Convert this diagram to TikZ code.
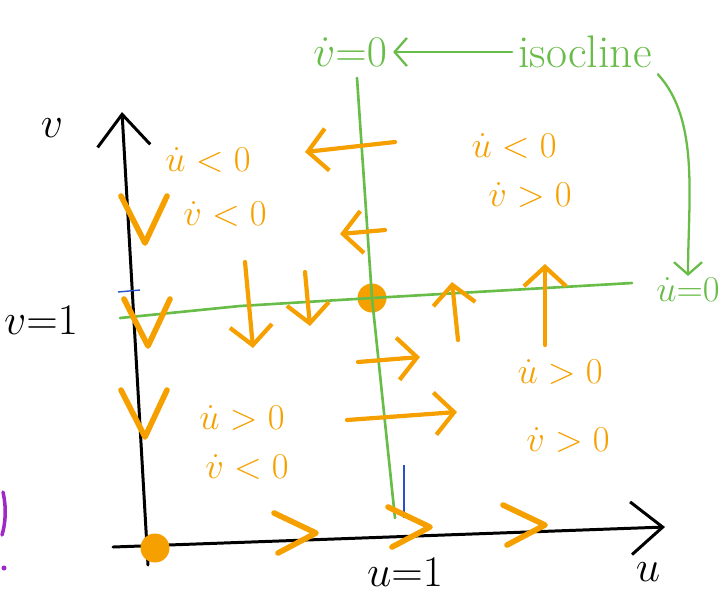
\documentclass[tikz,border=0pt]{standalone}
\usetikzlibrary{arrows.meta}
\definecolor{penorange}{RGB}{246,160,0}
\definecolor{pengreen}{RGB}{104,188,72}
\definecolor{penblue}{RGB}{40,80,200}
\definecolor{penpurple}{RGB}{160,40,200}
\begin{document}
\begin{tikzpicture}[
    x=0.02cm,y=-0.02cm,
    every node/.style={font=\fontsize{20}{22}\selectfont},
    axis/.style={draw=black, line width=1.7pt, line cap=round, -{Straight Barb[length=18pt,width=30pt]}},
    nullcline/.style={draw=pengreen, line width=1.5pt, line cap=round},
    note/.style={draw=pengreen, line width=1.3pt, line cap=round, -{Straight Barb[length=7pt,width=16pt]}},
    flow/.style={draw=penorange, line width=2.4pt, line cap=round, -{Straight Barb[length=11pt,width=24pt]}},
    chevron/.style={draw=penorange, line width=3.2pt, line cap=round, line join=round},
    sign/.style={text=penorange},
    fixed/.style={circle, fill=penorange, inner sep=0pt, minimum size=0.58cm}
]
    \useasboundingbox (0,0) rectangle (726,603);

    % axes
    \coordinate (vbot) at (148,565);
    \coordinate (vtop) at (122,112);
    \coordinate (ubeg) at (113,547);
    \coordinate (uend) at (665,527);
    \draw[axis] (vbot) -- (vtop);
    \draw[axis] (ubeg) -- (uend);
    \node[font=\fontsize{46}{50}\selectfont] (vlab) at (52,128) {$v$};
    \node[font=\fontsize{46}{50}\selectfont] (ulab) at (648,572) {$u$};
    \node[font=\fontsize{38}{42}\selectfont] (uone) at (405,572) {$u{=}1$};
    \node[font=\fontsize{28}{32}\selectfont, anchor=west, inner sep=1pt] (vone) at (2,320) {$v{=}1$};

    % nullclines
    \node[fixed] (fp) at (372,298) {};
    \node[fixed] (orig) at (155,548) {};
    \coordinate (ntop) at (357,78);
    \coordinate (nbot) at (395,518);
    \coordinate (hl) at (120,318);
    \coordinate (hm) at (240,306);
    \coordinate (hr) at (632,283);
    \draw[nullcline] (ntop) -- (fp.center) -- (nbot);
    \draw[nullcline] (hl) -- (hm) -- (fp.center) -- (hr);
    \node[text=pengreen, font=\fontsize{24}{26}\selectfont] (vnull) at (350,52) {$\dot v{=}0$};
    \node[text=pengreen, font=\fontsize{26}{28}\selectfont] (iso) at (585,52) {isocline};
    \node[text=pengreen, font=\fontsize{22}{24}\selectfont, inner sep=1pt] (unull) at (688,290) {$\dot u{=}0$};
    \draw[note] (iso.west) -- (vnull.east);
    \draw[note] (iso.south east) .. controls (700,120) and (688,200) .. (unull.north);

    % stray pen marks
    \draw[penblue, line width=0.6pt] (404,465) -- (404,518);
    \draw[penblue, line width=0.8pt] (118,292) -- (140,290);
    \draw[penpurple, line width=2pt, line cap=round] (3,492) .. controls (7,510) and (5,525) .. (2,535);
    \fill[penpurple] (4,568) circle (2.5);

    % signs of the derivatives
    \node[sign] (ua) at (208,160) {$\dot u<0$};
    \node[sign] (va) at (225,214) {$\dot v<0$};
    \node[sign] (ub) at (514,146) {$\dot u<0$};
    \node[sign] (vb) at (530,195) {$\dot v>0$};
    \node[sign] (uc) at (242,418) {$\dot u>0$};
    \node[sign] (vc) at (247,467) {$\dot v<0$};
    \node[sign] (ud) at (560,372) {$\dot u>0$};
    \node[sign] (vd) at (568,440) {$\dot v>0$};

    % flow arrows
    \draw[flow] (395,142) -- (305,152);
    \draw[flow] (385,230) -- (340,234);
    \draw[flow] (245,262) -- (253,348);
    \draw[flow] (305,272) -- (310,326);
    \draw[flow] (458,340) -- (452,282);
    \draw[flow] (545,345) -- (545,264);
    \draw[flow] (358,362) -- (420,357);
    \draw[flow] (347,420) -- (457,412);

    % flow on the axes
    \foreach \x/\y in {145/243, 148/346, 145/437} {
        \draw[chevron] (\x-24,\y-47) -- (\x,\y) -- (\x+22,\y-47);
    }
    \foreach \x/\y in {316/533, 430/527, 545/525} {
        \draw[chevron] (\x-42,\y-20) -- (\x,\y) -- (\x-38,\y+20);
    }
\end{tikzpicture}
\end{document}
